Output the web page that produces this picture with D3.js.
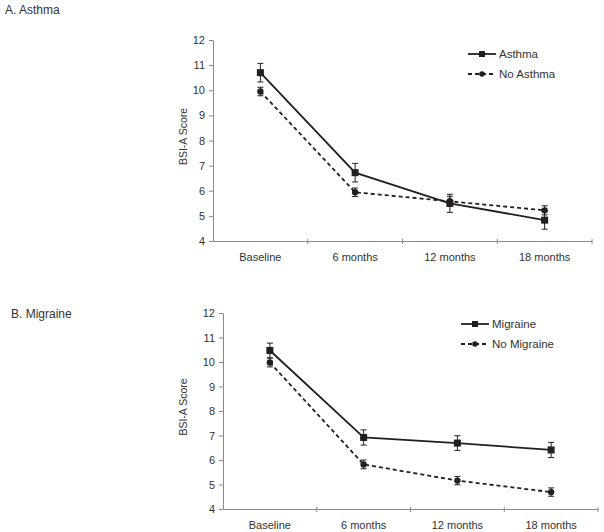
<!DOCTYPE html>
<html><head><meta charset="utf-8">
<script src="https://cdn.jsdelivr.net/npm/d3@7"></script>
<style>body{margin:0;background:#fff}svg{display:block}text{font-family:"Liberation Sans",Arial,sans-serif;fill:#333}</style>
</head><body><svg id="c" width="604" height="532"></svg>
<script>
const categories = ["Baseline","6 months","12 months","18 months"];
const yTicks = [4,5,6,7,8,9,10,11,12];
const asthma = [10.7, 6.72, 5.5, 4.83];
const asthmaErr = [0.37, 0.37, 0.36, 0.36];
const noAsthma = [9.95, 5.94, 5.58, 5.22];
const noAsthmaErr = [0.17, 0.17, 0.2, 0.18];
const migraine = [10.47, 6.92, 6.69, 6.41];
const migraineErr = [0.3, 0.31, 0.3, 0.31];
const noMigraine = [9.98, 5.82, 5.16, 4.69];
const noMigraineErr = [0.18, 0.18, 0.17, 0.17];

const svg = d3.select("#c");
const ink = "#231f20";
const axisCol = "#8a8a8a";

function panel(cfg){
  const g = svg.append("g");
  g.append("text").attr("x", cfg.titleX).attr("y", cfg.titleY).attr("dy","0.35em")
    .attr("font-size", 12).text(cfg.title);
  const x = d3.scaleBand().domain(categories).range([cfg.x0, cfg.x1]);
  const y = d3.scaleLinear().domain([4,12]).range([cfg.y0, cfg.y1]);
  const xa = g.append("g").attr("transform", `translate(0,${cfg.y0})`)
    .call(d3.axisBottom(x).tickSize(0).tickSizeOuter(0).tickPadding(12));
  xa.select(".domain").attr("stroke", axisCol);
  xa.selectAll("text").attr("font-size", 11).attr("fill","#333");
  const bounds = categories.slice(1).map(c => x(c)).concat([cfg.x1]);
  g.selectAll(".bt").data(bounds).join("line")
    .attr("x1", d=>d).attr("x2", d=>d).attr("y1", cfg.y0-2).attr("y2", cfg.y0+3)
    .attr("stroke", axisCol);
  const ya = g.append("g").attr("transform", `translate(${cfg.x0},0)`)
    .call(d3.axisLeft(y).tickValues(yTicks).tickSize(4).tickSizeOuter(0).tickPadding(4));
  ya.select(".domain").attr("stroke", axisCol);
  ya.selectAll(".tick line").attr("stroke", axisCol);
  ya.selectAll("text").attr("font-size", 11).attr("fill","#333");
  g.append("text").attr("transform", `translate(${cfg.titleYX},${(cfg.y0+cfg.y1)/2 - 4}) rotate(-90)`)
    .attr("text-anchor","middle").attr("dy","0.35em").attr("font-size", 10.5).text("BSI-A Score");

  const cx = c => x(c) + x.bandwidth()/2;
  const series = [
    {vals: cfg.s1, err: cfg.e1, dash: null, shape: "square", name: cfg.n1},
    {vals: cfg.s2, err: cfg.e2, dash: "4,3", shape: "circle", name: cfg.n2}
  ];
  series.forEach((s, si) => {
    const line = d3.line().x((d,i)=>cx(categories[i])).y(d=>y(d));
    g.append("path").datum(s.vals).attr("d", line).attr("fill","none")
      .attr("stroke", ink).attr("stroke-width", 1.8)
      .attr("stroke-dasharray", s.dash);
    s.vals.forEach((v,i) => {
      const px = cx(categories[i]);
      const eg = g.append("g").attr("stroke", ink).attr("stroke-width", 1);
      eg.append("line").attr("x1",px).attr("x2",px).attr("y1",y(v+s.err[i])).attr("y2",y(v-s.err[i]));
      eg.append("line").attr("x1",px-3).attr("x2",px+3).attr("y1",y(v+s.err[i])).attr("y2",y(v+s.err[i]));
      eg.append("line").attr("x1",px-3).attr("x2",px+3).attr("y1",y(v-s.err[i])).attr("y2",y(v-s.err[i]));
    });
    s.vals.forEach((v,i) => {
      const px = cx(categories[i]);
      if (s.shape === "square") g.append("rect").attr("x",px-3.5).attr("y",y(v)-3.5).attr("width",7).attr("height",7).attr("fill",ink);
      else g.append("circle").attr("cx",px).attr("cy",y(v)).attr("r",3.2).attr("fill",ink);
    });
    const ly = cfg.legY + si*20;
    g.append("line").attr("x1",cfg.legX).attr("x2",cfg.legX+28).attr("y1",ly).attr("y2",ly)
      .attr("stroke",ink).attr("stroke-width", 1.8).attr("stroke-dasharray", s.dash);
    if (s.shape === "square") g.append("rect").attr("x",cfg.legX+14-3).attr("y",ly-3).attr("width",6).attr("height",6).attr("fill",ink);
    else g.append("circle").attr("cx",cfg.legX+14).attr("cy",ly).attr("r",2.8).attr("fill",ink);
    g.append("text").attr("x",cfg.legX+31).attr("y",ly).attr("dy","0.35em").attr("font-size",11.5).text(s.name);
  });
}

panel({title:"A. Asthma", titleX:5, titleY:10, x0:213, x1:592, y0:241, y1:40, titleYX:183,
  s1:asthma, e1:asthmaErr, s2:noAsthma, e2:noAsthmaErr, n1:"Asthma", n2:"No Asthma", legX:468, legY:54});
panel({title:"B. Migraine", titleX:11, titleY:314, x0:223, x1:598, y0:509, y1:313, titleYX:183,
  s1:migraine, e1:migraineErr, s2:noMigraine, e2:noMigraineErr, n1:"Migraine", n2:"No Migraine", legX:461, legY:324});
</script></body></html>
